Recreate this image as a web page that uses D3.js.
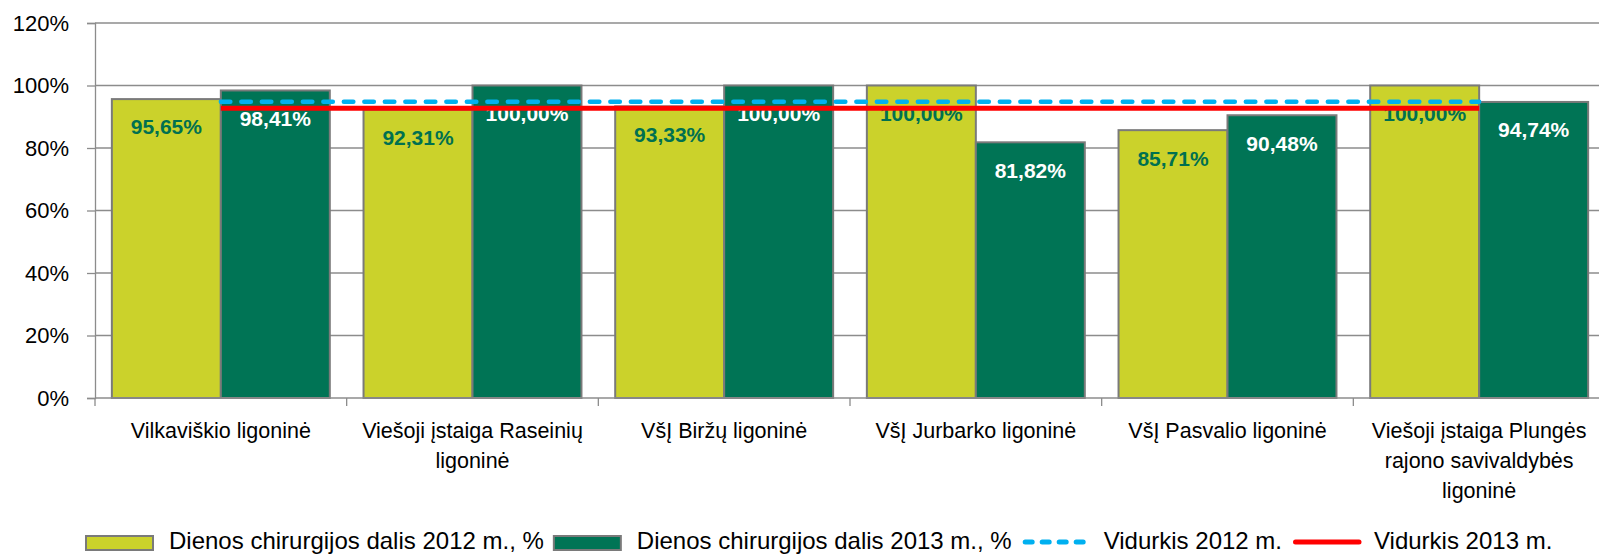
<!DOCTYPE html>
<html>
<head>
<meta charset="utf-8">
<script src="https://cdn.jsdelivr.net/npm/d3@7"></script>
<style>
  body { margin: 0; background: #fff; }
  svg { display: block; font-family: "Liberation Sans", Arial, sans-serif; }
</style>
</head>
<body>
<div id="chart"></div>
<script>
var categories = [
  "Vilkaviškio ligoninė",
  "Viešoji įstaiga Raseinių ligoninė",
  "VšĮ Biržų ligoninė",
  "VšĮ Jurbarko ligoninė",
  "VšĮ Pasvalio ligoninė",
  "Viešoji įstaiga Plungės rajono savivaldybės ligoninė"
];
var seriesNames = ["Dienos chirurgijos dalis 2012 m., %", "Dienos chirurgijos dalis 2013 m., %"];
var values2012 = [95.65, 92.31, 93.33, 100.00, 85.71, 100.00];
var values2013 = [98.41, 100.00, 100.00, 81.82, 90.48, 94.74];
var averageNames = ["Vidurkis 2012 m.", "Vidurkis 2013 m."];
var average2012 = 94.8;
var average2013 = 92.7;
var yTicks = [0, 20, 40, 60, 80, 100, 120];

var width = 1599,
    height = 555,
    margin = { top: 23, left: 95 },
    plotW = 1510,
    plotH = 375,
    barColors = ["#cbd22b", "#007455"],
    labelColors = ["#007050", "#ffffff"],
    lineColors = ["#00b0f0", "#ff0000"],
    gridColor = "#8c8c8c";

var svg = d3.select("#chart").append("svg")
    .attr("width", width)
    .attr("height", height);

var g = svg.append("g")
    .attr("transform", "translate(" + margin.left + "," + margin.top + ")");

var x0 = d3.scaleBand()
    .domain(categories)
    .range([0, plotW]);

var gap = x0.bandwidth() * 0.067;
var x1 = d3.scaleBand()
    .domain([0, 1])
    .range([gap, x0.bandwidth() - gap]);

var y = d3.scaleLinear()
    .domain([0, 120])
    .range([plotH, 0]);

var fmt = function (v) { return v.toFixed(2).replace(".", ",") + "%"; };

// gridlines
g.selectAll(".grid")
    .data(yTicks.filter(function (d) { return d > 0; }))
    .enter().append("line")
    .attr("class", "grid")
    .attr("x1", 0)
    .attr("x2", plotW)
    .attr("y1", function (d) { return y(d); })
    .attr("y2", function (d) { return y(d); })
    .attr("stroke", gridColor)
    .attr("stroke-width", 1.3);

// bars
var rows = categories.map(function (c, i) {
  return { cat: c, vals: [values2012[i], values2013[i]] };
});

var group = g.selectAll(".cat")
    .data(rows)
    .enter().append("g")
    .attr("class", "cat")
    .attr("transform", function (d) { return "translate(" + x0(d.cat) + ",0)"; });

group.selectAll("rect")
    .data(function (d) { return d.vals.map(function (v, k) { return { k: k, v: v }; }); })
    .enter().append("rect")
    .attr("x", function (d) { return x1(d.k); })
    .attr("width", x1.bandwidth())
    .attr("y", function (d) { return y(d.v); })
    .attr("height", function (d) { return plotH - y(d.v); })
    .attr("fill", function (d) { return barColors[d.k]; })
    .attr("stroke", "#7a7a7a")
    .attr("stroke-width", 2);

group.selectAll(".lbl")
    .data(function (d) { return d.vals.map(function (v, k) { return { k: k, v: v }; }); })
    .enter().append("text")
    .attr("class", "lbl")
    .attr("x", function (d) { return x1(d.k) + x1.bandwidth() / 2; })
    .attr("y", function (d) { return y(d.v) + 28; })
    .attr("dy", "0.35em")
    .attr("text-anchor", "middle")
    .attr("font-size", 21)
    .attr("font-weight", "bold")
    .attr("fill", function (d) { return labelColors[d.k]; })
    .text(function (d) { return fmt(d.v); });

// average lines, from first to last category centre
var xa = x0(categories[0]) + x0.bandwidth() / 2,
    xb = x0(categories[categories.length - 1]) + x0.bandwidth() / 2;

g.append("line")
    .attr("x1", xa).attr("x2", xb)
    .attr("y1", y(average2013)).attr("y2", y(average2013))
    .attr("stroke", lineColors[1])
    .attr("stroke-width", 5);

g.append("line")
    .attr("x1", xa).attr("x2", xb)
    .attr("y1", y(average2012)).attr("y2", y(average2012))
    .attr("stroke", lineColors[0])
    .attr("stroke-width", 4.5)
    .attr("stroke-linecap", "round")
    .attr("stroke-dasharray", "9.5,11");

// y axis
var yAxis = g.append("g")
    .call(d3.axisLeft(y).tickValues(yTicks).tickFormat(function (d) { return d + "%"; }).tickSize(8).tickPadding(18));
yAxis.select(".domain").attr("stroke", gridColor).attr("stroke-width", 1.3);
yAxis.selectAll(".tick line").attr("stroke", gridColor).attr("stroke-width", 1.3);
yAxis.selectAll(".tick text")
    .attr("font-size", 22)
    .attr("font-family", "Liberation Sans, Arial, sans-serif")
    .attr("fill", "#000");

// x axis with ticks at category boundaries
var xAxis = g.append("g")
    .attr("transform", "translate(0," + plotH + ")");
xAxis.append("line")
    .attr("x1", 0).attr("x2", plotW)
    .attr("stroke", gridColor).attr("stroke-width", 1.3);
xAxis.selectAll(".xt")
    .data(categories.map(function (c) { return x0(c); }).concat([plotW]))
    .enter().append("line")
    .attr("class", "xt")
    .attr("x1", function (d) { return d; }).attr("x2", function (d) { return d; })
    .attr("y1", 0).attr("y2", 8)
    .attr("stroke", gridColor).attr("stroke-width", 1.3);

var catText = xAxis.selectAll(".ct")
    .data(categories)
    .enter().append("text")
    .attr("class", "ct")
    .attr("x", function (d) { return x0(d) + x0.bandwidth() / 2; })
    .attr("y", 32)
    .attr("text-anchor", "middle")
    .attr("font-size", 21.5)
    .attr("fill", "#000")
    .text(function (d) { return d; });

catText.call(wrap, x0.bandwidth() - 12);

function wrap(texts, maxW) {
  texts.each(function () {
    var t = d3.select(this),
        words = t.text().split(/\s+/),
        xPos = t.attr("x"),
        line = [],
        tspan = t.text(null).append("tspan").attr("x", xPos).attr("dy", "0.35em");
    words.forEach(function (w) {
      line.push(w);
      tspan.text(line.join(" "));
      if (tspan.node().getComputedTextLength() > maxW && line.length > 1) {
        line.pop();
        tspan.text(line.join(" "));
        line = [w];
        tspan = t.append("tspan").attr("x", xPos).attr("dy", 30).text(w);
      }
    });
  });
}

// legend
var legend = svg.append("g").attr("transform", "translate(0,541)");
var lx = 86;
var items = [
  { name: seriesNames[0], type: "box", color: barColors[0] },
  { name: seriesNames[1], type: "box", color: barColors[1] },
  { name: averageNames[0], type: "dash", color: lineColors[0] },
  { name: averageNames[1], type: "line", color: lineColors[1] }
];
items.forEach(function (it, i) {
  if (i > 0) lx += it.type === "box" ? 10 : 11;
  if (it.type === "box") {
    legend.append("rect")
      .attr("x", lx).attr("y", -5)
      .attr("width", 67).attr("height", 14)
      .attr("fill", it.color)
      .attr("stroke", "#7a7a7a").attr("stroke-width", 2);
    lx += 67 + 16;
  } else {
    var ln = legend.append("line")
      .attr("x1", lx + 2.5).attr("x2", lx + 66)
      .attr("y1", 1).attr("y2", 1)
      .attr("stroke", it.color)
      .attr("stroke-width", 5)
      .attr("stroke-linecap", "round");
    if (it.type === "dash") ln.attr("stroke-dasharray", "7,10");
    lx += 68 + 13;
  }
  var t = legend.append("text")
    .attr("x", lx)
    .attr("dy", "0.35em")
    .attr("font-size", 24)
    .attr("fill", "#000")
    .text(it.name);
  lx += t.node().getComputedTextLength();
});
</script>
</body>
</html>
